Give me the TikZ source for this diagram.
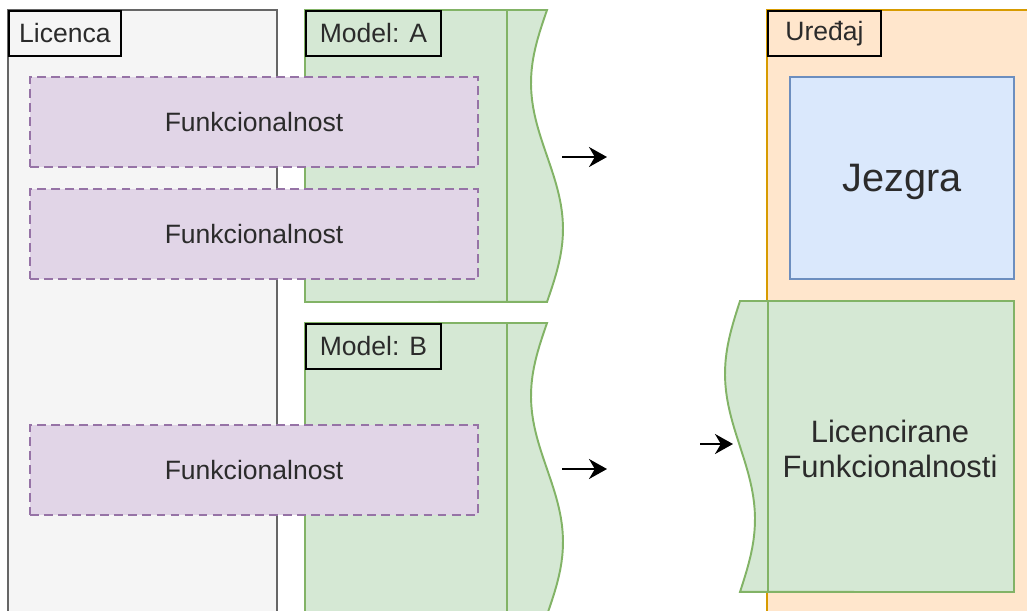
\documentclass[tikz,border=0pt]{standalone}
\usepackage{fontspec}
\setmainfont{Liberation Sans}
\usepackage{xcolor}
\usetikzlibrary{arrows, arrows.meta}
\definecolor{licfill}{HTML}{F5F5F5}
\definecolor{licline}{HTML}{666666}
\definecolor{modfill}{HTML}{D5E8D4}
\definecolor{modline}{HTML}{82B366}
\definecolor{funfill}{HTML}{E1D5E7}
\definecolor{funline}{HTML}{9673A6}
\definecolor{uredfill}{HTML}{FFE6CC}
\definecolor{uredline}{HTML}{D79B00}
\definecolor{jezfill}{HTML}{DAE8FC}
\definecolor{jezline}{HTML}{6C8EBF}
\definecolor{txt}{HTML}{2B2B2B}

\begin{document}
\begin{tikzpicture}[x=0.2mm, y=-0.2mm, line width=1.1pt, text=txt,
        font=\fontsize{15.1}{18}\selectfont,
        tag/.style={draw=black, minimum width=#1, minimum height=9mm, anchor=north west, inner sep=0pt},
        funk/.style={draw=funline, fill=funfill, dash pattern=on 5pt off 3pt, minimum width=89.6mm, minimum height=18mm, inner sep=0pt},
        model/.style={draw=modline, fill=modfill},
        pfeil/.style={-{Stealth[length=3.6mm, width=4mm]}, black, line width=1.2pt}]
        \clip (0,0) rectangle (1027,611);
        \filldraw [draw=licline, fill=licfill] (8,10) rectangle (277,640);
        \node [tag=22.4mm] (licenca) at (8,10) {Licenca};
        \filldraw [model] (305,10) -- (547,10) -- plot[domain=0:1, samples=40] ({547-16*sin(360*\x)}, {10+292*\x}) -- (305,302) -- cycle;
        \draw [modline] (507,10) -- (507,302);
        \node [tag=27mm] (modela) at (305,10) {Model: A};
        \filldraw [model] (305,323) -- (547,323) -- plot[domain=0:1, samples=40] ({547-16*sin(360*\x)}, {323+292*\x}) -- (305,615) -- cycle;
        \draw [modline] (507,323) -- (507,615);
        \node [tag=27mm] (modelb) at (305,323) {Model: B};
        \node [funk] (funk1) at (254,122) {Funkcionalnost};
        \node [funk] (funk2) at (254,234) {Funkcionalnost};
        \node [funk] (funk3) at (254,470) {Funkcionalnost};
        \filldraw [draw=uredline, fill=uredfill] (767,10) rectangle (1040,640);
        \node [tag=22.6mm] (uredjaj) at (767,10) {Uređaj};
        \node [draw=jezline, fill=jezfill, minimum width=44.8mm, minimum height=40.4mm] (jezgra) at (902,178) {};
        \node [font=\fontsize{22.6}{27}\selectfont] (jeztext) at (902,182) {Jezgra};
        \filldraw [model] (1014,301) -- (740,301) -- plot[domain=0:1, samples=40] ({740-15*sin(360*\x)}, {301+291*\x}) -- (1014,592) -- cycle;
        \draw [modline] (768,301) -- (768,592);
        \node [align=center, font=\fontsize{17.6}{20}\selectfont] (licfunk) at (890,449) {Licencirane\\Funkcionalnosti};
        \coordinate (izA) at (562,157);
        \coordinate (doA) at (607,157);
        \coordinate (izB) at (562,469);
        \coordinate (doB) at (607,469);
        \coordinate (izL) at (700,444);
        \coordinate (doL) at (733,444);
        \draw [pfeil] (izA) -- (doA);
        \draw [pfeil] (izB) -- (doB);
        \draw [pfeil] (izL) -- (doL);
    \end{tikzpicture}
\end{document}
